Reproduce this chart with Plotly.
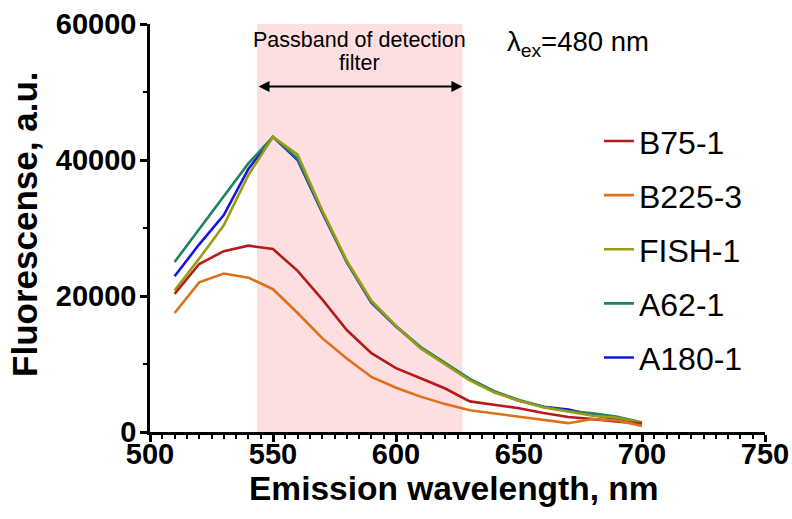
import plotly.graph_objects as go

# Emission wavelengths (nm)
wavelength = [510, 520, 530, 540, 550, 560, 570, 580, 590, 600,
              610, 620, 630, 640, 650, 660, 670, 680, 690, 700]

# Fluorescence intensity (a.u.) per sample
b75_1 = [20300, 24700, 26600, 27400, 26900, 23700, 19500, 15000, 11600, 9400,
         7900, 6400, 4500, 4000, 3500, 2800, 2200, 1900, 1500, 1200]
b225_3 = [17500, 22000, 23300, 22700, 21000, 17500, 13800, 10800, 8100, 6500,
          5200, 4100, 3200, 2700, 2300, 1800, 1300, 1900, 1700, 900]
fish_1 = [20800, 25500, 30400, 37800, 43400, 40800, 32600, 25200, 19300, 15600,
          12300, 9900, 7600, 5800, 4600, 3600, 3000, 2400, 2100, 1300]
a62_1 = [25000, 29800, 34600, 39500, 43400, 40200, 32400, 25000, 19100, 15600,
         12500, 10100, 7800, 6000, 4700, 3700, 3100, 2750, 2250, 1400]
a180_1 = [22900, 27600, 31900, 38700, 43400, 40000, 32300, 25000, 19000, 15500,
          12400, 10000, 7700, 5900, 4600, 3700, 3300, 2500, 1800, 1200]

series_names = ["B75-1", "B225-3", "FISH-1", "A62-1", "A180-1"]
series_values = [b75_1, b225_3, fish_1, a62_1, a180_1]
series_colors = ["#B51B1B", "#DE7117", "#9C9C14", "#1E8264", "#1414E6"]

# Detection filter passband (nm) and arrow height (a.u.)
passband = [543.5, 627]
arrow_level = 50800

x_ticks = [500, 550, 600, 650, 700, 750]
y_ticks = [0, 20000, 40000, 60000]

FONT = "Liberation Sans, Arial, sans-serif"

fig = go.Figure()

# draw order: blue underneath, then the rest
draw_order = [4, 3, 2, 0, 1]
for i in draw_order:
    fig.add_trace(go.Scatter(
        x=wavelength, y=series_values[i], mode="lines", name=series_names[i],
        line=dict(color=series_colors[i], width=2.6),
        legendrank=i + 1, legendgroup=series_names[i],
    ))

fig.add_shape(type="rect", xref="x", yref="y",
              x0=passband[0], x1=passband[1], y0=0, y1=60000,
              fillcolor="rgb(253,223,225)", line_width=0, layer="below")

fig.add_annotation(x=passband[1], y=arrow_level, ax=passband[0], ay=arrow_level,
                   xref="x", yref="y", axref="x", ayref="y", text="",
                   showarrow=True, arrowhead=2, arrowside="end+start",
                   arrowsize=1.1, arrowwidth=2, arrowcolor="black")

# two-line caption over the passband, lines placed individually for tight spacing
band_mid = (passband[0] + passband[1]) / 2
for line_text, line_y in [("Passband of detection", 57650), ("filter", 54250)]:
    fig.add_annotation(x=band_mid, y=line_y, xref="x", yref="y",
                       text=line_text, showarrow=False, yanchor="middle",
                       font=dict(family=FONT, size=21.5, color="black"))

fig.add_annotation(x=0.577, y=57200, xref="paper", yref="y", xanchor="left",
                   yanchor="middle", text="λ<sub>ex</sub>=480 nm", showarrow=False,
                   font=dict(family=FONT, size=27.5, color="black"))

# axis titles placed as paper-anchored labels
fig.add_annotation(x=0.495, y=-0.138, xref="paper", yref="paper",
                   text="<b>Emission wavelength, nm</b>", showarrow=False,
                   xanchor="center", yanchor="middle",
                   font=dict(family=FONT, size=33.5, color="black"))
fig.add_annotation(x=-0.203, y=0.508, xref="paper", yref="paper",
                   text="<b>Fluorescense, a.u.</b>", showarrow=False, textangle=-90,
                   xanchor="center", yanchor="middle",
                   font=dict(family=FONT, size=35, color="black"))

axis_common = dict(
    showgrid=False, zeroline=False, showline=True, linecolor="black",
    linewidth=2.5, ticks="outside", ticklen=7, tickwidth=2.5, tickcolor="black",
    tickfont=dict(family=FONT, size=29, color="black", weight="bold"),
    automargin=False,
)

fig.update_layout(
    width=792, height=519,
    margin=dict(l=150, r=27, t=24, b=87),
    paper_bgcolor="white", plot_bgcolor="white",
    font=dict(family=FONT, color="black"),
    legend=dict(x=0.73, y=0.78, xanchor="left", yanchor="top",
                font=dict(family=FONT, size=32), traceorder="grouped",
                tracegroupgap=9.5, bgcolor="rgba(0,0,0,0)"),
    xaxis=dict(range=[500, 750], tickvals=x_ticks, ticktext=[str(v) for v in x_ticks],
               minor=dict(dtick=5, ticks="outside", ticklen=4, tickwidth=1.5,
                          tickcolor="black", showgrid=False),
               ticklabelstandoff=-13, **axis_common),
    yaxis=dict(range=[0, 60000], tickvals=y_ticks, ticktext=[str(v) for v in y_ticks],
               minor=dict(dtick=10000, ticks="outside", ticklen=4, tickwidth=1.5,
                          tickcolor="black", showgrid=False),
               ticklabelstandoff=-2, **axis_common),
)

fig.write_html("out.html")
